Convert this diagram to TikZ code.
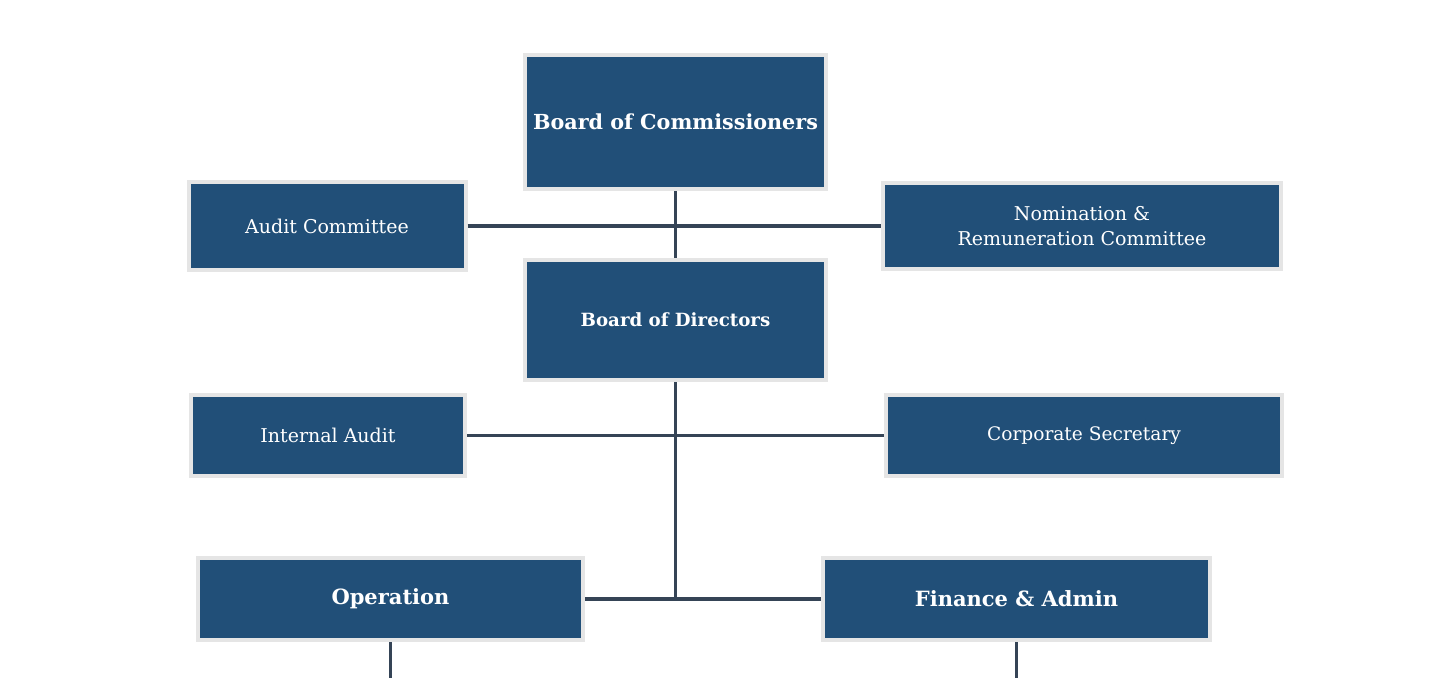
\documentclass[tikz,border=0pt]{standalone}
\usepackage{fontspec}
\setmainfont{DejaVu Serif}
\usetikzlibrary{positioning}
\definecolor{BoxBlue}{RGB}{33,79,120}
\definecolor{BoxRim}{RGB}{229,229,229}
\definecolor{LinkSlate}{RGB}{53,68,86}

\begin{document}
\begin{tikzpicture}[x=1pt,y=-1pt,
        bx/.style={rectangle,fill=BoxBlue,draw=BoxRim,line width=4pt,
                   text=white,align=center,inner sep=0pt,
                   font=\fontsize{19}{25}\selectfont},
        hd/.style={bx,font=\bfseries\fontsize{20.7}{25}\selectfont},
        ln/.style={LinkSlate,line width=3.5pt}
      ]
        \useasboundingbox (0,0) rectangle (1442,678);
        % Top board and committees
        \node[hd,minimum width=301pt,minimum height=134pt] (boc) at (675.5,122) {Board of Commissioners};
        \node[bx,minimum width=277pt,minimum height=88pt] (ac) at (327,226) {Audit Committee};
        \node[bx,minimum width=398pt,minimum height=86pt] (nrc) at (1082,226) {Nomination \&\\Remuneration Committee};
        \node[hd,font=\bfseries\fontsize{18.2}{25}\selectfont,minimum width=301pt,minimum height=120pt] (bod) at (675.5,320) {Board of Directors};
        % Support units
        \node[bx,minimum width=274pt,minimum height=81pt] (ia) at (328,435.5) {Internal Audit};
        \node[bx,font=\fontsize{18.6}{25}\selectfont,minimum width=396pt,minimum height=81pt] (cs) at (1084,435.5) {Corporate Secretary};
        % Divisions
        \node[hd,font=\bfseries\fontsize{21}{25}\selectfont,minimum width=385pt,minimum height=82pt] (op) at (390.5,599) {Operation};
        \node[hd,font=\bfseries\fontsize{21}{25}\selectfont,minimum width=387pt,minimum height=82pt] (fa) at (1016.5,599) {Finance \& Admin};
        \coordinate (opEnd) at (390.5,678);
        \coordinate (faEnd) at (1016.5,678);
        % Links
        \draw[ln] (boc) -- (bod);
        \draw[ln] (ac) -- (nrc);
        \draw[ln] (bod) -- (bod |- op);
        \draw[ln] (ia) -- (cs);
        \draw[ln] (op) -- (fa);
        \draw[ln] (op) -- (opEnd);
        \draw[ln] (fa) -- (faEnd);
      \end{tikzpicture}
\end{document}
